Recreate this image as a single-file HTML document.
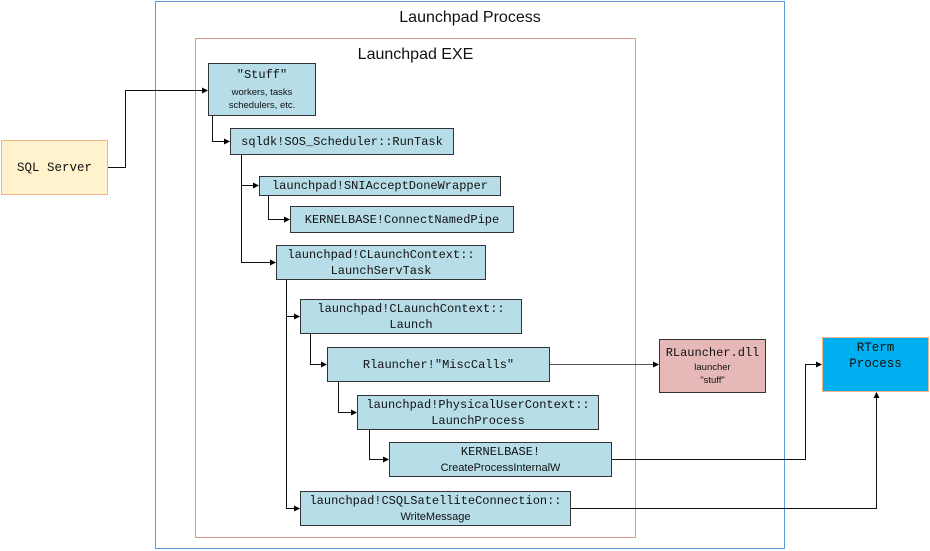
<!DOCTYPE html>
<html><head><meta charset="utf-8"><style>
body{margin:0;width:930px;height:551px;background:#fff;position:relative;overflow:hidden;font-family:"Liberation Sans",sans-serif}
.b{position:absolute;box-sizing:border-box;border:1px solid #333;background:#b7dde8;text-align:center;font-family:"Liberation Mono",monospace;font-size:12px;color:#111;display:flex;flex-direction:column;justify-content:center;line-height:16px}
.s{font-family:"Liberation Sans",sans-serif;font-size:9.5px;line-height:13px}
.t{position:absolute;font-size:16px;color:#111}
svg{position:absolute;left:0;top:0}
</style></head><body>
<div style="position:absolute;left:155px;top:1px;width:630px;height:548px;border:1px solid #5b9bd5;box-sizing:border-box"></div>
<div class="t" style="left:155px;width:630px;text-align:center;top:9px">Launchpad Process</div>
<div style="position:absolute;left:195px;top:38px;width:441px;height:500px;border:1px solid #d99694;box-sizing:border-box"></div>
<div class="t" style="left:195px;width:441px;text-align:center;top:46px">Launchpad EXE</div>

<div class="b" style="left:1px;top:140px;width:107px;height:55px;background:#fff2cc;border-color:#f4b183;font-size:12.5px">SQL Server</div>
<div class="b" style="left:208px;top:63px;width:108px;height:53px"><div>"Stuff"</div><div class="s" style="margin-top:3px">workers, tasks<br>schedulers, etc.</div></div>
<div class="b" style="left:230px;top:128px;width:224px;height:27px">sqldk!SOS_Scheduler::RunTask</div>
<div class="b" style="left:259px;top:176px;width:242px;height:20px">launchpad!SNIAcceptDoneWrapper</div>
<div class="b" style="left:290px;top:206px;width:224px;height:27px">KERNELBASE!ConnectNamedPipe</div>
<div class="b" style="left:276px;top:245px;width:210px;height:35px">launchpad!CLaunchContext::<br>LaunchServTask</div>
<div class="b" style="left:300px;top:299px;width:222px;height:35px">launchpad!CLaunchContext::<br>Launch</div>
<div class="b" style="left:327px;top:347px;width:223px;height:35px">Rlauncher!"MiscCalls"</div>
<div class="b" style="left:357px;top:395px;width:242px;height:35px">launchpad!PhysicalUserContext::<br>LaunchProcess</div>
<div class="b" style="left:389px;top:442px;width:223px;height:35px"><div>KERNELBASE!</div><div style="font-family:'Liberation Sans',sans-serif;font-size:11px">CreateProcessInternalW</div></div>
<div class="b" style="left:300px;top:491px;width:271px;height:35px"><div>launchpad!CSQLSatelliteConnection::</div><div style="font-family:'Liberation Sans',sans-serif;font-size:11px">WriteMessage</div></div>
<div class="b" style="left:659px;top:339px;width:107px;height:54px;background:#e6b8b7"><div style="font-size:12px">RLauncher.dll</div><div class="s">launcher<br>"stuff"</div></div>
<div class="b" style="left:822px;top:337px;width:107px;height:55px;background:#00b0f0;border-color:#f4b183;justify-content:flex-start;padding-top:2px;font-size:12.5px">RTerm<br>Process</div>

<svg width="930" height="551">
<defs><marker id="a" markerWidth="6" markerHeight="6" refX="5" refY="3" orient="auto" markerUnits="userSpaceOnUse"><path d="M0,0L6,3L0,6z" fill="#000"/></marker></defs>
<g fill="none" stroke="#111" stroke-width="1" marker-end="url(#a)">
<path d="M108,167.5H125.5V90.5H207"/>
<path d="M212.5,116V141.5H229"/>
<path d="M241.5,155V185.5H258"/>
<path d="M241.5,185V262.5H275"/>
<path d="M268.5,196V219.5H289"/>
<path d="M286.5,280V316.5H299"/>
<path d="M286.5,316V508.5H299"/>
<path d="M310.5,334V364.5H326"/>
<path d="M338.5,382V412.5H356"/>
<path stroke="#555" d="M550,364.5H658"/>
<path d="M369.5,430V459.5H388"/>
<path d="M612,459.5H805.5V364.5H821"/>
<path d="M571,508.5H876.5V393"/>
</g>
</svg>
</body></html>
